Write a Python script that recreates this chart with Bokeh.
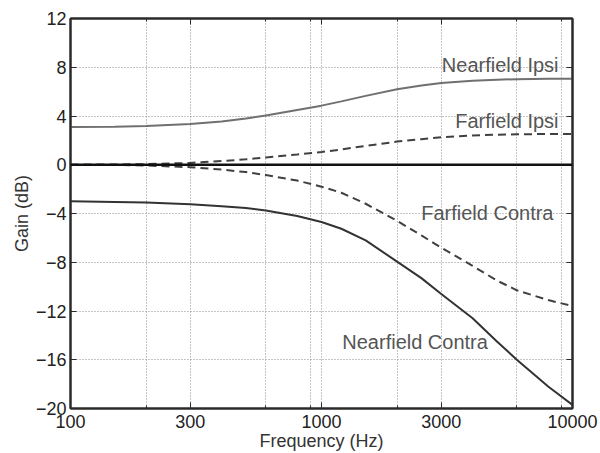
from bokeh.plotting import figure
from bokeh.models import FixedTicker, LogAxis, LinearAxis, Span, Label
from bokeh.embed import file_html
from bokeh.resources import INLINE

# ---- data ----
freq = [100, 150, 200, 300, 400, 500, 600, 800, 1000, 1200, 1500, 2000,
        2500, 3000, 4000, 5000, 6000, 8000, 10000]
nearfield_ipsi = [3.1, 3.12, 3.18, 3.35, 3.55, 3.8, 4.05, 4.5, 4.85, 5.2, 5.65,
                  6.2, 6.5, 6.7, 6.9, 6.98, 7.02, 7.05, 7.05]
farfield_ipsi = [0.0, 0.02, 0.05, 0.15, 0.3, 0.45, 0.6, 0.85, 1.05, 1.25, 1.55,
                 1.9, 2.1, 2.25, 2.4, 2.47, 2.5, 2.52, 2.52]
farfield_contra = [0.0, -0.02, -0.06, -0.2, -0.4, -0.6, -0.85, -1.3, -1.8, -2.3,
                   -3.2, -4.6, -5.8, -6.8, -8.3, -9.5, -10.3, -11.1, -11.6]
nearfield_contra = [-3.0, -3.05, -3.1, -3.25, -3.4, -3.55, -3.75, -4.2, -4.7,
                    -5.25, -6.2, -7.95, -9.3, -10.6, -12.6, -14.5, -16.0, -18.2, -19.7]

x_major = [100, 300, 1000, 3000, 10000]
x_minor = [200, 600, 900, 2000, 6000, 9000]
y_ticks = [-20, -16, -12, -8, -4, 0, 4, 8, 12]

label_texts = ["Nearfield Ipsi", "Farfield Ipsi", "Farfield Contra", "Nearfield Contra"]
label_x = [8800, 8800, 8400, 1210]
label_y = [8.15, 3.6, -3.95, -14.55]
label_align = ["right", "right", "right", "left"]

FONT = "Liberation Sans"
AX = "#2a2a2a"
GRID = "#8a8a8a"

p = figure(width=600, height=453, x_axis_type="log", x_range=(100, 10000),
           y_range=(-20, 12), output_backend="svg", toolbar_location=None,
           min_border_left=70, min_border_right=28, min_border_top=18,
           min_border_bottom=42)
p.outline_line_color = AX
p.outline_line_width = 2
p.background_fill_color = "white"
p.border_fill_color = "white"

xt = FixedTicker(ticks=x_major, minor_ticks=x_minor)
yt = FixedTicker(ticks=y_ticks)
p.xaxis.ticker = xt
p.yaxis.ticker = yt

minus = {v: (("\u2212" + str(abs(v))) if v < 0 else str(v)) for v in y_ticks}
p.yaxis.major_label_overrides = minus
p.xaxis.major_label_overrides = {v: str(v) for v in x_major}

for ax in (p.xaxis[0], p.yaxis[0]):
    ax.axis_line_color = AX
    ax.axis_line_width = 2
    ax.major_tick_in = 6
    ax.major_tick_out = 0
    ax.minor_tick_in = 3
    ax.minor_tick_out = 0
    ax.major_tick_line_color = AX
    ax.minor_tick_line_color = AX
    ax.major_label_text_font = FONT
    ax.major_label_text_font_size = "18px"
    ax.major_label_text_color = "#222"
    ax.axis_label_text_font = FONT
    ax.axis_label_text_font_size = "18px"
    ax.axis_label_text_font_style = "normal"
    ax.axis_label_text_color = "#333"
    ax.major_label_standoff = 4
    ax.axis_label_standoff = 1

p.xaxis.axis_label = "Frequency (Hz)"
p.yaxis.axis_label = "Gain (dB)"
p.xaxis.major_label_standoff = 6
p.xaxis.axis_label_standoff = 0
p.yaxis.minor_tick_line_color = None

top = LogAxis(ticker=xt, major_label_overrides={v: "" for v in x_major},
              major_label_standoff=0,
              axis_line_color=AX, axis_line_width=2, major_tick_in=6, major_tick_out=0,
              minor_tick_in=3, minor_tick_out=0, major_tick_line_color=AX,
              minor_tick_line_color=AX)
right = LinearAxis(ticker=yt, major_label_overrides={v: "" for v in y_ticks},
                   major_label_standoff=0,
                   axis_line_color=AX, axis_line_width=2, major_tick_in=6, major_tick_out=0,
                   minor_tick_line_color=None, major_tick_line_color=AX)
p.add_layout(top, "above")
p.add_layout(right, "right")

for g in (p.xgrid[0], p.ygrid[0]):
    g.grid_line_color = GRID
    g.grid_line_dash = "1 2"
    g.grid_line_width = 1
p.xgrid.minor_grid_line_color = GRID
p.xgrid.minor_grid_line_dash = "1 2"
p.xgrid.minor_grid_line_width = 1

p.add_layout(Span(location=0, dimension="width", line_color="#111", line_width=2.5))

p.line(freq, nearfield_ipsi, line_color="#707070", line_width=2)
p.line(freq, farfield_ipsi, line_color="#404040", line_width=2, line_dash="8 5")
p.line(freq, farfield_contra, line_color="#404040", line_width=2, line_dash="8 5")
p.line(freq, nearfield_contra, line_color="#333333", line_width=2)

for t, x, y, a in zip(label_texts, label_x, label_y, label_align):
    p.add_layout(Label(x=x, y=y, text=t, text_align=a, text_baseline="alphabetic",
                       text_font=FONT, text_font_size="20px", text_color="#555555"))

open("out.html", "w").write(file_html(p, INLINE))
